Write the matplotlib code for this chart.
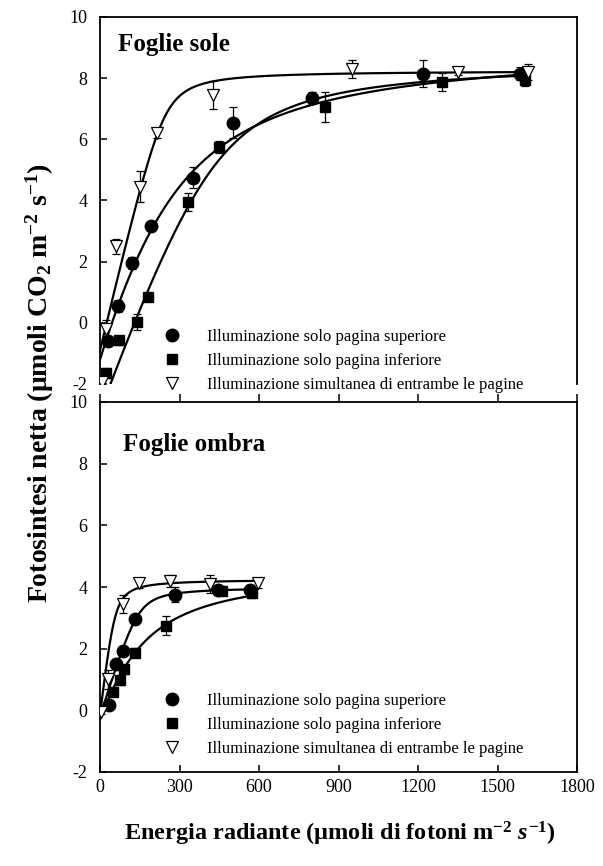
import numpy as np
import matplotlib
matplotlib.use("Agg")
import matplotlib.pyplot as plt
from matplotlib.lines import Line2D

plt.rcParams['font.family'] = ['Liberation Serif', 'DejaVu Serif']
plt.rcParams['mathtext.fontset'] = 'custom'
plt.rcParams['mathtext.rm'] = 'Liberation Serif:bold'
plt.rcParams['mathtext.it'] = 'Liberation Serif:bold:italic'
plt.rcParams['mathtext.bf'] = 'Liberation Serif:bold'
plt.rcParams['mathtext.default'] = 'rm'
plt.rcParams['axes.unicode_minus'] = False

# Foglie sole
sole_sup_x = [30, 68, 120, 192, 352, 503, 799, 1219, 1586]
sole_sup_y = [-0.6, 0.55, 1.95, 3.15, 4.75, 6.55, 7.35, 8.15, 8.15]
sole_sup_err = [0.15, 0.2, 0.2, 0.15, 0.35, 0.5, 0.2, 0.45, 0.2]

sole_inf_x = [23, 72, 140, 181, 332, 450, 850, 1291, 1604]
sole_inf_y = [-1.64, -0.57, 0.03, 0.84, 3.95, 5.75, 7.06, 7.87, 7.95]
sole_inf_err = [0.15, 0.15, 0.25, 0.1, 0.3, 0.2, 0.5, 0.3, 0.2]

sole_sim_x = [8, 22, 61, 151, 215, 427, 951, 1352, 1615]
sole_sim_y = [-1.95, -0.2, 2.5, 4.45, 6.2, 7.45, 8.3, 8.2, 8.2]
sole_sim_err = [0.1, 0.3, 0.25, 0.5, 0.15, 0.45, 0.3, 0.1, 0.25]

# Foglie ombra
ombra_sup_x = [35, 60, 88, 132, 283, 446, 566]
ombra_sup_y = [0.17, 1.5, 1.92, 2.95, 3.75, 3.9, 3.9]
ombra_sup_err = [0.1, 0.15, 0.15, 0.15, 0.25, 0.15, 0.15]

ombra_inf_x = [48, 75, 90, 132, 250, 459, 575]
ombra_inf_y = [0.58, 0.98, 1.33, 1.87, 2.75, 3.88, 3.8]
ombra_inf_err = [0.1, 0.15, 0.15, 0.15, 0.3, 0.15, 0.15]

ombra_sim_x = [5, 30, 85, 146, 264, 415, 597]
ombra_sim_y = [-0.07, 1.0, 3.45, 4.12, 4.2, 4.1, 4.12]
ombra_sim_err = [0.05, 0.3, 0.3, 0.15, 0.2, 0.3, 0.15]

# fitted light-response curves: (phi, Pmax, theta, Rd, I_max)
fit_sole = [(0.028, 10.3, 0.60, 1.2, 1600),
            (0.023, 11.45, 0.90, 2.9, 1610),
            (0.036, 9.15, 0.97, 0.9, 1620)]
fit_ombra = [(0.027, 4.2, 0.95, 0.2, 570),
             (0.023, 4.9, 0.50, 0.3, 580),
             (0.07, 4.4, 0.90, 0.15, 600)]

labels = ['Illuminazione solo pagina superiore',
          'Illuminazione solo pagina inferiore',
          'Illuminazione simultanea di entrambe le pagine']


def nrh(I, phi, pmax, theta, rd):
    # non-rectangular hyperbola
    s = phi * I + pmax
    return (s - np.sqrt(s ** 2 - 4 * theta * phi * I * pmax)) / (2 * theta) - rd


fig = plt.figure(figsize=(6.03, 8.66), dpi=100)
ax_top = fig.add_axes([100 / 603, 1 - 384 / 866, 477 / 603, 367 / 866])
ax_bot = fig.add_axes([100 / 603, 1 - 772 / 866, 477 / 603, 370 / 866])

styles = [dict(marker='o', ms=9, mfc='black', mec='black'),
          dict(marker='s', ms=7.5, mfc='black', mec='black'),
          dict(marker='v', ms=9, mfc='white', mec='black', mew=0.9)]


def draw_panel(ax, series, fits, title, title_pos):
    for p in fits:
        I = np.linspace(0, p[4], 400)
        ax.plot(I, nrh(I, *p[:4]), color='black', lw=1.6, zorder=2)
    for (x, y, e), st in zip(series, styles):
        ax.errorbar(x, y, yerr=e, fmt='none', ecolor='black', elinewidth=0.9,
                    capsize=3, capthick=0.9, zorder=3)
        ax.plot(x, y, ls='none', zorder=4, **st)
    ax.set_xlim(0, 1800)
    ax.set_ylim(-2, 10)
    ax.set_yticks(range(-2, 11, 2))
    ax.tick_params(axis='both', direction='in', length=5, width=1.1,
                   labelsize=13, colors='black')
    ax.tick_params(axis='y', pad=9)
    for sp in ax.spines.values():
        sp.set_linewidth(1.3)
    ax.text(*title_pos, title, transform=ax.transAxes, fontsize=18,
            fontweight='bold', va='center', ha='left')


draw_panel(ax_top,
           [(sole_sup_x, sole_sup_y, sole_sup_err),
            (sole_inf_x, sole_inf_y, sole_inf_err),
            (sole_sim_x, sole_sim_y, sole_sim_err)],
           fit_sole, 'Foglie sole', (0.038, 0.925))
draw_panel(ax_bot,
           [(ombra_sup_x, ombra_sup_y, ombra_sup_err),
            (ombra_inf_x, ombra_inf_y, ombra_inf_err),
            (ombra_sim_x, ombra_sim_y, ombra_sim_err)],
           fit_ombra, 'Foglie ombra', (0.048, 0.885))

ax_top.spines['bottom'].set_visible(False)
ax_top.tick_params(axis='x', bottom=False, labelbottom=False)
ax_bot.set_xticks(range(0, 1801, 300))
ax_bot.tick_params(axis='x', top=True, pad=5)
for t in ax_bot.xaxis.get_major_ticks():
    t.tick2line.set_marker(2)  # tick pointing up, outside the top spine
    t.tick2line.set_markersize(6)

handles = [Line2D([], [], ls='none', **st) for st in styles]
for ax, y0 in ((ax_top, -0.025), (ax_bot, 0.04)):
    ax.legend(handles, labels, loc='lower left', bbox_to_anchor=(0.134, y0),
              frameon=False, fontsize=12, handlelength=1.0, handletextpad=1.6,
              labelspacing=0.5, borderpad=0, borderaxespad=0)

fig.text(0.066, 0.557, r'Fotosintesi netta ($\mu$moli CO$_2$ m$^{-2}$ s$^{-1}$)',
         rotation=90, ha='center', va='center', fontsize=20, fontweight='bold')
fig.text(0.564, 0.037, r'Energia radiante ($\mu$moli di fotoni m$^{-2}$ $\mathit{s}^{-1}$)',
         ha='center', va='center', fontsize=17.5, fontweight='bold')

fig.savefig('out.png', dpi=100)
